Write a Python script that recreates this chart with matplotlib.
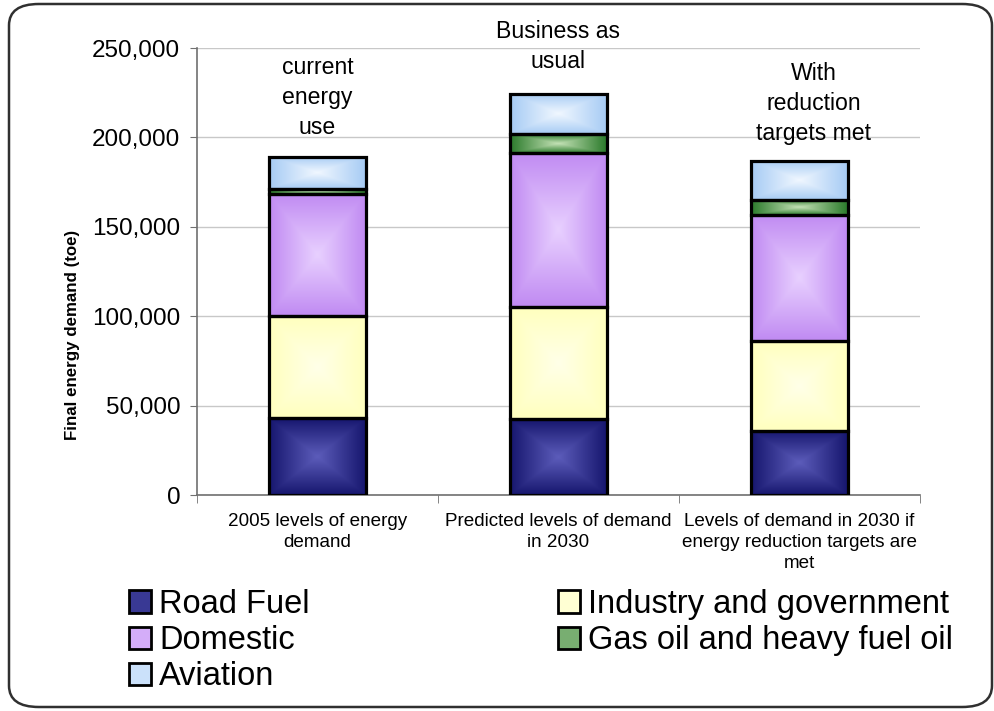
import numpy as np
import matplotlib
matplotlib.use("Agg")
import matplotlib.pyplot as plt
from matplotlib.colors import LinearSegmentedColormap, to_rgb
from matplotlib.patches import FancyBboxPatch, Patch
from matplotlib.ticker import FuncFormatter

plt.rcParams["font.family"] = ["Liberation Sans", "DejaVu Sans"]

# data (toe)
scenarios = ["2005 levels of energy\ndemand",
             "Predicted levels of demand\nin 2030",
             "Levels of demand in 2030 if\nenergy reduction targets are\nmet"]
notes = ["current\nenergy\nuse", "Business as\nusual", "With\nreduction\ntargets met"]
road_fuel = [43000, 42500, 36000]
industry = [57000, 62500, 50000]
domestic = [68500, 86500, 70500]
gas_oil = [2800, 10500, 8500]
aviation = [18000, 22500, 22000]

series = [
    ("Road Fuel", road_fuel, "#16166e", "#5c5cba"),
    ("Industry and government", industry, "#ffffbe", "#ffffe8"),
    ("Domestic", domestic, "#c08af2", "#e8d0ff"),
    ("Gas oil and heavy fuel oil", gas_oil, "#2b7a2b", "#c4e2b6"),
    ("Aviation", aviation, "#a6cbf4", "#f0f7ff"),
]

fig = plt.figure(figsize=(9.95, 7.11), dpi=100)
ax = fig.add_axes([197 / 995, 1 - 495 / 711, 723 / 995, 447 / 711])

x = np.arange(len(scenarios))
width = 0.40

# rectangular "from centre" gradient used to shade each block
g = np.linspace(-1, 1, 200)
U, V = np.meshgrid(g, g)
grad = np.maximum(np.abs(U), np.abs(V))

bottom = np.zeros(len(x))
for name, vals, edge_c, mid_c in series:
    vals = np.asarray(vals, dtype=float)
    bars = ax.bar(x, vals, width, bottom=bottom, color=edge_c, edgecolor="none", zorder=2)
    cmap = LinearSegmentedColormap.from_list(name, [mid_c, edge_c])
    for b in bars:
        x0, y0, w, h = b.get_x(), b.get_y(), b.get_width(), b.get_height()
        im = ax.imshow(grad, cmap=cmap, extent=[x0, x0 + w, y0, y0 + h],
                       aspect="auto", origin="lower", zorder=2.5, interpolation="bilinear")
        im.set_clip_path(b)
    ax.bar(x, vals, width, bottom=bottom, fill=False, edgecolor="black", linewidth=2.3, zorder=3)
    bottom += vals

ax.set_xlim(-0.5, 2.5)
ax.set_ylim(0, 250000)
ax.set_yticks(np.arange(0, 250001, 50000))
ax.yaxis.set_major_formatter(FuncFormatter(lambda v, p: f"{int(v):,}"))
ax.tick_params(axis="y", labelsize=17.5, length=5, color="#707070", pad=7)
ax.yaxis.grid(True, color="#c8c8c8", linewidth=1.0, zorder=0)
ax.set_axisbelow(True)

ax.set_xticks(x)
ax.set_xticklabels(scenarios, fontsize=13.6, linespacing=1.3)
ax.tick_params(axis="x", length=0, pad=13)
ax.set_xticks([-0.5, 0.5, 1.5, 2.5], minor=True)
ax.tick_params(axis="x", which="minor", length=6, color="#707070")

for s in ["top", "right"]:
    ax.spines[s].set_visible(False)
for s in ["left", "bottom"]:
    ax.spines[s].set_color("#707070")
    ax.spines[s].set_linewidth(1.2)

ax.set_ylabel("Final energy demand (toe)", fontsize=12.2, fontweight="bold")
ax.yaxis.set_label_coords(-0.162, 0.358)

note_pos = [(0, 222300), (1, 250800), (2, 218800)]
for (xi, yv), txt in zip(note_pos, notes):
    ax.text(xi + (0.06 if xi == 2 else 0), yv, txt, ha="center", va="center",
            fontsize=16.6, linespacing=1.4, clip_on=False)

def blend(a, b):
    return tuple((np.array(to_rgb(a)) + np.array(to_rgb(b))) / 2)

handles = [Patch(facecolor=blend(edge, mid), edgecolor="black", linewidth=2.0, label=name)
           for name, _, edge, mid in series]
# column-wise fill: Road, Domestic, Aviation | Industry, Gas oil
order = [0, 2, 4, 1, 3]
leg = fig.legend([handles[i] for i in order], [series[i][0] for i in order],
                 ncol=2, loc="upper left", bbox_to_anchor=(129 / 995, 1 - 589 / 711),
                 frameon=False, fontsize=23.5, handlelength=0.68, handleheight=0.68,
                 handletextpad=0.25, columnspacing=7.6, labelspacing=0.16,
                 borderaxespad=0, borderpad=0)

border = FancyBboxPatch((9 / 995, 4 / 711), 983 / 995, 703 / 711,
                        boxstyle="round,pad=0,rounding_size=0.03",
                        transform=fig.transFigure, fill=False,
                        edgecolor="#303030", linewidth=1.8, zorder=0)
fig.patches.append(border)

fig.savefig("out.png", dpi=100)
